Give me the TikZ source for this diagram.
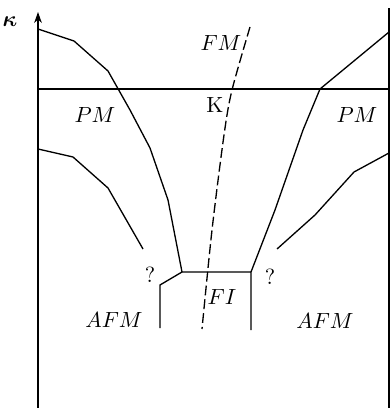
\documentclass[tikz,border=0pt]{standalone}
\usepackage{amsmath}
\usepackage{bm}
\usetikzlibrary{arrows.meta}

\begin{document}
\begin{tikzpicture}[x=0.016cm, y=-0.016cm, line width=0.6pt,
    phase/.style={font=\normalsize, inner sep=0pt},
    border/.style={line join=miter}
]
  \useasboundingbox (0,0) rectangle (391,408);

  % Achsen
  \draw[-{Stealth[length=5pt,width=3.5pt]}] (38,408) -- (38,12);
  \draw (389,408) -- (389,8);
  \node[phase] (kaxis) at (10,22) {$\bm{\kappa}$};

  % kritische Linie kappa
  \draw (38,89) -- (389,89);

  % Phasengrenzen links
  \draw[border] (38,29) -- (74,41) -- (108,71) -- (130,110) -- (150,148)
    -- (168,200) -- (182,272);
  \draw[border] (38,149) -- (73,157) -- (108,188) -- (143,249);

  % Phasengrenzen rechts
  \draw[border] (251,272) -- (275,210) -- (303,130) -- (320,89) -- (389,32);
  \draw[border] (277,249) -- (315,215) -- (354,172) -- (389,153);

  % FI-Gebiet
  \draw[border] (160,328) -- (160,285) -- (182,272) -- (251,272) -- (251,330);

  % FM-Linie (gestrichelt)
  \draw[dash pattern=on 4.5pt off 1.8pt] plot[smooth]
    coordinates {(250,27) (232,90) (224,135) (212,230) (202,329)};

  % Beschriftungen
  \node[phase] (fm) at (221,43) {$FM$};
  \node[phase] (kc) at (215,105) {K};
  \node[phase] (pml) at (95,115) {$PM$};
  \node[phase] (pmr) at (357,115) {$PM$};
  \node[phase] (ql) at (150,275) {?};
  \node[phase] (qr) at (270,277) {?};
  \node[phase] (fi) at (222,297) {$FI$};
  \node[phase] (afml) at (114,320) {$AFM$};
  \node[phase] (afmr) at (325,321) {$AFM$};

\end{tikzpicture}
\end{document}
